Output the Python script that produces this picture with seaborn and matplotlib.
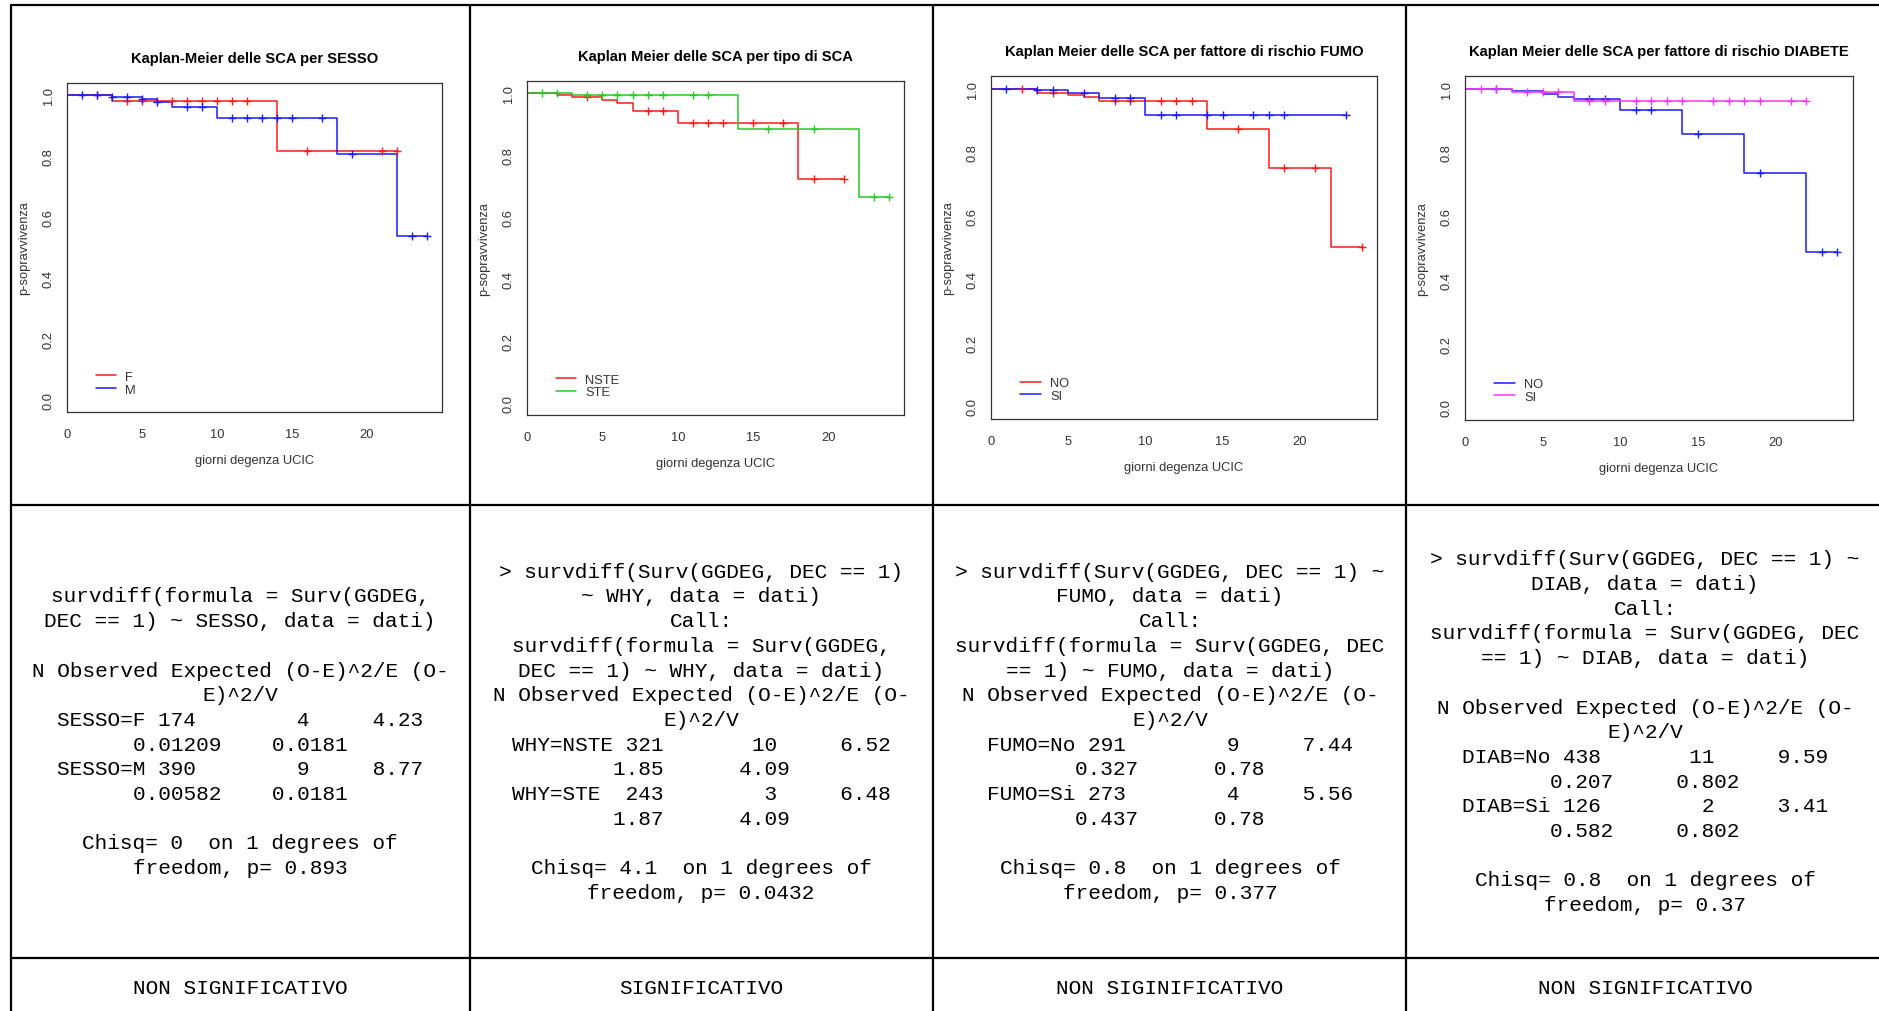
import numpy as np
import matplotlib
matplotlib.use("Agg")
import matplotlib.pyplot as plt
from matplotlib.lines import Line2D
import seaborn as sns

W, H = 1879, 1012

# ---------------- survival curves (step times / survival after step) ----------------
sesso_f_t = [0, 3, 14, 22]
sesso_f_s = [1.0, 0.981, 0.817, 0.817]
sesso_f_cens = [2, 4, 5, 6, 7, 8, 9, 10, 11, 12, 16, 21, 22]
sesso_m_t = [0, 3, 5, 6, 7, 10, 18, 22, 24]
sesso_m_s = [1.0, 0.995, 0.989, 0.979, 0.960, 0.926, 0.808, 0.539, 0.539]
sesso_m_cens = [1, 2, 3, 4, 5, 6, 8, 9, 11, 12, 13, 14, 15, 17, 19, 23, 24]

why_nste_t = [0, 2, 3, 5, 6, 7, 10, 18, 21]
why_nste_s = [1.0, 0.996, 0.988, 0.978, 0.968, 0.944, 0.904, 0.724, 0.724]
why_nste_cens = [4, 8, 9, 11, 12, 13, 15, 17, 19, 21]
why_ste_t = [0, 3, 14, 22, 24]
why_ste_s = [1.0, 0.995, 0.885, 0.664, 0.664]
why_ste_cens = [1, 2, 4, 5, 6, 7, 8, 9, 11, 12, 16, 19, 23, 24]

fumo_no_t = [0, 3, 5, 6, 7, 14, 18, 22, 24]
fumo_no_s = [1.0, 0.986, 0.980, 0.974, 0.962, 0.874, 0.750, 0.501, 0.501]
fumo_no_cens = [2, 4, 8, 9, 11, 12, 13, 16, 19, 21, 24]
fumo_si_t = [0, 3, 5, 7, 10, 23]
fumo_si_s = [1.0, 0.995, 0.988, 0.971, 0.918, 0.918]
fumo_si_cens = [1, 3, 4, 6, 8, 9, 11, 12, 14, 15, 17, 18, 19, 23]

diab_no_t = [0, 2, 3, 5, 6, 7, 10, 14, 18, 22, 24]
diab_no_s = [1.0, 0.998, 0.992, 0.982, 0.975, 0.969, 0.934, 0.857, 0.734, 0.489, 0.489]
diab_no_cens = [2, 8, 9, 11, 12, 15, 19, 23, 24]
diab_si_t = [0, 3, 7, 22]
diab_si_s = [1.0, 0.990, 0.962, 0.962]
diab_si_cens = [1, 2, 4, 5, 6, 8, 9, 11, 12, 13, 14, 16, 17, 18, 19, 21, 22]

x_ticks = [0, 5, 10, 15, 20]
y_ticks = [0.0, 0.2, 0.4, 0.6, 0.8, 1.0]
y_tick_labels = ["0.0", "0.2", "0.4", "0.6", "0.8", "1.0"]

titles = [
    "Kaplan-Meier delle SCA per SESSO",
    "Kaplan Meier delle SCA per tipo di SCA",
    "Kaplan Meier delle SCA per fattore di rischio FUMO",
    "Kaplan Meier delle SCA per fattore di rischio DIABETE",
]

# ---------------- survdiff output text ----------------
text_sesso = [
    "survdiff(formula = Surv(GGDEG,",
    "DEC == 1) ~ SESSO, data = dati)",
    "",
    "N Observed Expected (O-E)^2/E (O-",
    "E)^2/V",
    "SESSO=F 174        4     4.23",
    "0.01209    0.0181",
    "SESSO=M 390        9     8.77",
    "0.00582    0.0181",
    "",
    "Chisq= 0  on 1 degrees of",
    "freedom, p= 0.893",
]
text_why = [
    "> survdiff(Surv(GGDEG, DEC == 1)",
    "~ WHY, data = dati)",
    "Call:",
    "survdiff(formula = Surv(GGDEG,",
    "DEC == 1) ~ WHY, data = dati)",
    "N Observed Expected (O-E)^2/E (O-",
    "E)^2/V",
    "WHY=NSTE 321       10     6.52",
    "1.85      4.09",
    "WHY=STE  243        3     6.48",
    "1.87      4.09",
    "",
    "Chisq= 4.1  on 1 degrees of",
    "freedom, p= 0.0432",
]
text_fumo = [
    "> survdiff(Surv(GGDEG, DEC == 1) ~",
    "FUMO, data = dati)",
    "Call:",
    "survdiff(formula = Surv(GGDEG, DEC",
    "== 1) ~ FUMO, data = dati)",
    "N Observed Expected (O-E)^2/E (O-",
    "E)^2/V",
    "FUMO=No 291        9     7.44",
    "0.327      0.78",
    "FUMO=Si 273        4     5.56",
    "0.437      0.78",
    "",
    "Chisq= 0.8  on 1 degrees of",
    "freedom, p= 0.377",
]
text_diab = [
    "> survdiff(Surv(GGDEG, DEC == 1) ~",
    "DIAB, data = dati)",
    "Call:",
    "survdiff(formula = Surv(GGDEG, DEC",
    "== 1) ~ DIAB, data = dati)",
    "",
    "N Observed Expected (O-E)^2/E (O-",
    "E)^2/V",
    "DIAB=No 438       11     9.59",
    "0.207     0.802",
    "DIAB=Si 126        2     3.41",
    "0.582     0.802",
    "",
    "Chisq= 0.8  on 1 degrees of",
    "freedom, p= 0.37",
]
verdicts = ["NON SIGNIFICATIVO", "SIGNIFICATIVO", "NON SIGINIFICATIVO", "NON SIGNIFICATIVO"]

RED, BLUE, GREEN, MAGENTA = "#FF1A1A", "#1A1AFF", "#22CC22", "#FF33FF"

panels = [
    dict(title=titles[0], box=(67, 84, 442, 413),
         series=[("F", sesso_f_t, sesso_f_s, sesso_f_cens, RED),
                 ("M", sesso_m_t, sesso_m_s, sesso_m_cens, BLUE)]),
    dict(title=titles[1], box=(527, 82, 904, 416),
         series=[("NSTE", why_nste_t, why_nste_s, why_nste_cens, RED),
                 ("STE", why_ste_t, why_ste_s, why_ste_cens, GREEN)]),
    dict(title=titles[2], box=(991, 77, 1377, 420),
         series=[("NO", fumo_no_t, fumo_no_s, fumo_no_cens, RED),
                 ("SI", fumo_si_t, fumo_si_s, fumo_si_cens, BLUE)]),
    dict(title=titles[3], box=(1465, 77, 1853, 421),
         series=[("NO", diab_no_t, diab_no_s, diab_no_cens, BLUE),
                 ("SI", diab_si_t, diab_si_s, diab_si_cens, MAGENTA)]),
]

sns.set_style("white")
plt.rcParams["font.family"] = ["Liberation Sans", "DejaVu Sans"]

fig = plt.figure(figsize=(W / 100, H / 100), dpi=100)
fig.patch.set_facecolor("white")

AX_COL = "#333333"

for p in panels:
    x0, y0, x1, y1 = p["box"]
    ax = fig.add_axes([x0 / W, 1 - y1 / H, (x1 - x0) / W, (y1 - y0) / H])
    for name, t, s, cens, col in p["series"]:
        sns.lineplot(x=t, y=s, drawstyle="steps-post", color=col, lw=1.1,
                     label=name, ax=ax, estimator=None, sort=False)
        # censored observations sit on the step curve
        idx = np.searchsorted(t, cens, side="right") - 1
        cy = np.asarray(s)[idx]
        sns.scatterplot(x=cens, y=cy, marker="+", s=32, color=col,
                        linewidth=1.0, ax=ax, zorder=3, legend=False)
    ax.set_xlim(0, 25)
    ax.set_ylim(-0.04, 1.04)
    ax.set_xticks(x_ticks)
    ax.set_xticklabels([str(v) for v in x_ticks])
    ax.set_yticks(y_ticks)
    ax.set_yticklabels(y_tick_labels)
    ax.tick_params(axis="both", direction="out", length=5.3, width=0.75,
                   color=AX_COL, labelcolor=AX_COL, labelsize=9.3)
    ax.tick_params(axis="x", pad=6)
    ax.tick_params(axis="y", pad=3.5, labelrotation=90)
    for lab in ax.get_yticklabels():
        lab.set_va("center")
    for sp in ax.spines.values():
        sp.set_color(AX_COL)
        sp.set_linewidth(0.9)
    ax.set_xlabel("giorni degenza UCIC", fontsize=9.3, color=AX_COL, labelpad=10)
    ax.set_ylabel("p-sopravvivenza", fontsize=9.3, color=AX_COL, labelpad=9)
    ax.set_title(p["title"], fontsize=10.6, fontweight="bold", color="black", pad=15)
    ax.legend(loc="lower left", bbox_to_anchor=(0.076, 0.05), frameon=False,
              fontsize=9.3, handlelength=1.6, handletextpad=0.7, labelspacing=0.05,
              borderpad=0, borderaxespad=0)
    for txt in ax.get_legend().get_texts():
        txt.set_color(AX_COL)

# ---------------- table text ----------------
col_centers = [240, 701, 1170, 1645]
blocks = [text_sesso, text_why, text_fumo, text_diab]
line_h = 24.7
mid_y = 732
for cx, lines in zip(col_centers, blocks):
    n = len(lines)
    for i, line in enumerate(lines):
        yc = mid_y + (i - (n - 1) / 2) * line_h
        fig.text(cx / W, 1 - (yc + 6.3) / H, line, ha="center", va="baseline",
                 fontsize=15.2, family="Liberation Mono", color="black")
for cx, v in zip(col_centers, verdicts):
    fig.text(cx / W, 1 - (988 + 6.3) / H, v, ha="center", va="baseline",
             fontsize=15.2, family="Liberation Mono", color="black")

# ---------------- table borders ----------------
def hline(py, x0=11, x1=W):
    fig.add_artist(Line2D([x0 / W, x1 / W], [1 - py / H, 1 - py / H],
                          transform=fig.transFigure, color="black", lw=1.6))

def vline(px, y0=5.5, y1=H):
    fig.add_artist(Line2D([px / W, px / W], [1 - y0 / H, 1 - y1 / H],
                          transform=fig.transFigure, color="black", lw=1.6))

for py in [5.5, 506, 959]:
    hline(py)
for px in [11, 470.5, 933, 1406]:
    vline(px)

fig.savefig("out.png", dpi=100)
